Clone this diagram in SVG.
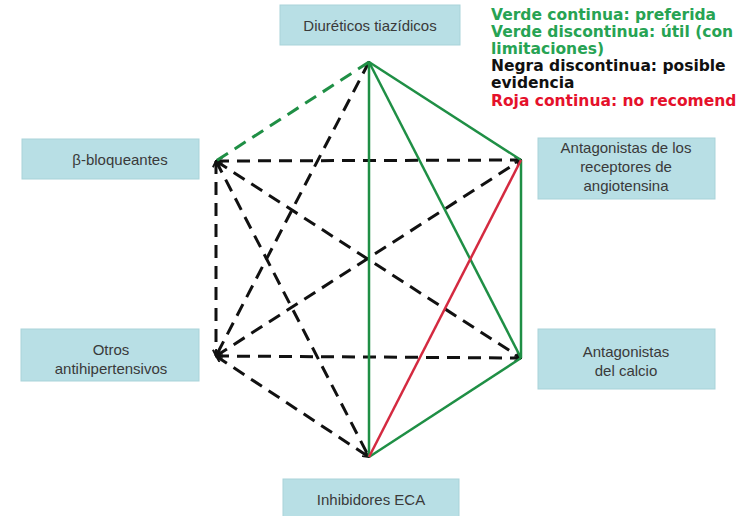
<svg xmlns="http://www.w3.org/2000/svg" width="748" height="516" viewBox="0 0 748 516">
<defs>
<marker id="ah" viewBox="0 0 10 10" refX="9" refY="5" markerWidth="2.6" markerHeight="2.6" orient="auto-start-reverse">
<path d="M1,1 L9,5 L1,9" fill="none" stroke="#111" stroke-width="2.4"/>
</marker>
<style>
.box{fill:#b8dfe5;stroke:#a9d3d9;stroke-width:1}
.lbl{font-family:"Liberation Sans",Arial,sans-serif;font-size:15px;fill:#3a3a3a;text-anchor:middle}
.leg{font-family:"DejaVu Sans",Verdana,sans-serif;font-size:15.5px;font-weight:bold}
.bd{stroke:#111;stroke-width:3;stroke-dasharray:13 8;fill:none;marker-start:url(#ah);marker-end:url(#ah)}
.gd{stroke:#1f8f45;stroke-width:3;stroke-dasharray:13 8;fill:none}
.gs{stroke:#1f8f45;stroke-width:2.5;fill:none}
.rs{stroke:#d42a40;stroke-width:2.5;fill:none}
</style>
</defs>
<rect width="748" height="516" fill="#fff"/>
<g id="connectors">
<line class="bd" x1="216" y1="161" x2="521" y2="160"/>
<line class="bd" x1="216" y1="161" x2="216" y2="356"/>
<line class="bd" x1="216" y1="161" x2="521" y2="358"/>
<line class="bd" x1="216" y1="161" x2="369" y2="457"/>
<line class="bd" x1="216" y1="356" x2="521" y2="160"/>
<line class="bd" x1="216" y1="356" x2="521" y2="358"/>
<line class="bd" x1="216" y1="356" x2="369" y2="457"/>
<line class="bd" x1="369" y1="62" x2="216" y2="356"/>
<line class="gd" x1="369" y1="62" x2="216" y2="161"/>
<line class="gs" x1="369" y1="62" x2="369" y2="457"/>
<line class="gs" x1="369" y1="62" x2="521" y2="160"/>
<line class="gs" x1="369" y1="62" x2="521" y2="358"/>
<line class="gs" x1="521" y1="160" x2="521" y2="358"/>
<line class="gs" x1="521" y1="358" x2="369" y2="457"/>
<line class="rs" x1="521" y1="160" x2="369" y2="457"/>
</g>
<g id="diureticos">
<rect class="box" x="280" y="5" width="180" height="40"/>
<text class="lbl" x="370" y="31">Diuréticos tiazídicos</text>
</g>
<g id="betabloqueantes">
<rect class="box" x="22" y="139" width="177" height="40"/>
<text class="lbl" x="120" y="165">β-bloqueantes</text>
</g>
<g id="otros">
<rect class="box" x="21" y="329" width="178" height="52"/>
<text class="lbl" x="111" y="355">Otros</text>
<text class="lbl" x="111" y="374">antihipertensivos</text>
</g>
<g id="ara">
<rect class="box" x="538" y="138" width="177" height="61"/>
<text class="lbl" x="626" y="153">Antagonistas de los</text>
<text class="lbl" x="626" y="172">receptores de</text>
<text class="lbl" x="626" y="191">angiotensina</text>
</g>
<g id="calcio">
<rect class="box" x="538" y="329" width="177" height="60"/>
<text class="lbl" x="626" y="357">Antagonistas</text>
<text class="lbl" x="626" y="376">del calcio</text>
</g>
<g id="eca">
<rect class="box" x="283" y="479" width="176" height="45"/>
<text class="lbl" x="371" y="505">Inhibidores ECA</text>
</g>
<g id="legend">
<text class="leg" x="491" y="20" fill="#27a353">Verde continua: preferida</text>
<text class="leg" x="491" y="37" fill="#27a353">Verde discontinua: útil (con</text>
<text class="leg" x="491" y="54" fill="#27a353">limitaciones)</text>
<text class="leg" x="491" y="71" fill="#111">Negra discontinua: posible</text>
<text class="leg" x="491" y="88" fill="#111">evidencia</text>
<text class="leg" x="491" y="106" fill="#e5112b">Roja continua: no recomend</text>
</g>
</svg>
